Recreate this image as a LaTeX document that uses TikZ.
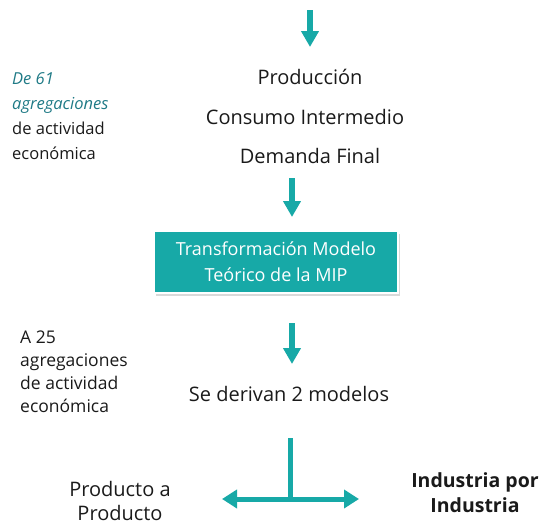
\documentclass[tikz,border=0pt]{standalone}
\usepackage{fontspec}
\setmainfont{Open Sans}
\usetikzlibrary{arrows.meta,shadows}
\definecolor{teal1}{HTML}{17A9A7}
\definecolor{tealdark}{HTML}{1F7A86}
\definecolor{txt}{HTML}{1A1A1A}
\tikzset{
  flow/.style={line width=6pt,draw=teal1,-{Triangle[width=17pt,length=16pt]}},
  both/.style={line width=5pt,draw=teal1,{Triangle[width=18pt,length=15pt]}-{Triangle[width=18pt,length=15pt]}},
  main/.style={inner sep=0pt,text=txt,font=\fontsize{20}{24}\selectfont,align=center},
  side/.style={inner sep=0pt,text=txt,anchor=north west,align=left},
  mipbox/.style={fill=teal1,draw=white,line width=1.5pt,text=white,minimum width=244pt,minimum height=62pt,
     align=center,font=\fontsize{18}{26}\selectfont,inner sep=0pt,
     drop shadow={shadow xshift=2pt,shadow yshift=-3pt,opacity=0.3,fill=gray}}
}
\begin{document}
\begin{tikzpicture}[x=1pt,y=-1pt]
\useasboundingbox (0,0) rectangle (543,522);
\coordinate (s0) at (310,10);
\coordinate (e0) at (310,47);
\draw[flow] (s0) -- (e0);
\node[main] (prod) at (310,77) {Producción};
\node[main] (ci) at (305,117) {Consumo Intermedio};
\node[main] (df) at (310,156) {Demanda Final};
\coordinate (s1) at (292,178);
\coordinate (e1) at (292,217);
\draw[flow] (s1) -- (e1);
\node[mipbox] (mip) at (276,262) {Transformación Modelo\\Teórico de la MIP};
\coordinate (s2) at (292,323);
\coordinate (e2) at (292,364);
\draw[flow] (s2) -- (e2);
\node[main] (der) at (289,394) {Se derivan 2 modelos};
\coordinate (tt) at (290,438);
\coordinate (tm) at (290,499);
\coordinate (tl) at (222,499);
\coordinate (tr) at (359,499);
\draw[line width=5pt,draw=teal1] (tt) -- (tm);
\draw[both] (tl) -- (tr);
\node[main] (pp) at (120,501) {Producto a\\Producto};
\node[main,font=\fontsize{19.5}{25}\selectfont\bfseries] (ii) at (475,493) {Industria por\\Industria};
\node[side,font=\fontsize{16.5}{25}\selectfont] (l1) at (12,72) {\textcolor{tealdark}{\itshape De 61}\\\textcolor{tealdark}{\itshape agregaciones}\\de actividad\\económica};
\node[side,font=\fontsize{17.5}{22.8}\selectfont] (l2) at (20,331) {A 25\\agregaciones\\de actividad\\económica};
\end{tikzpicture}
\end{document}
